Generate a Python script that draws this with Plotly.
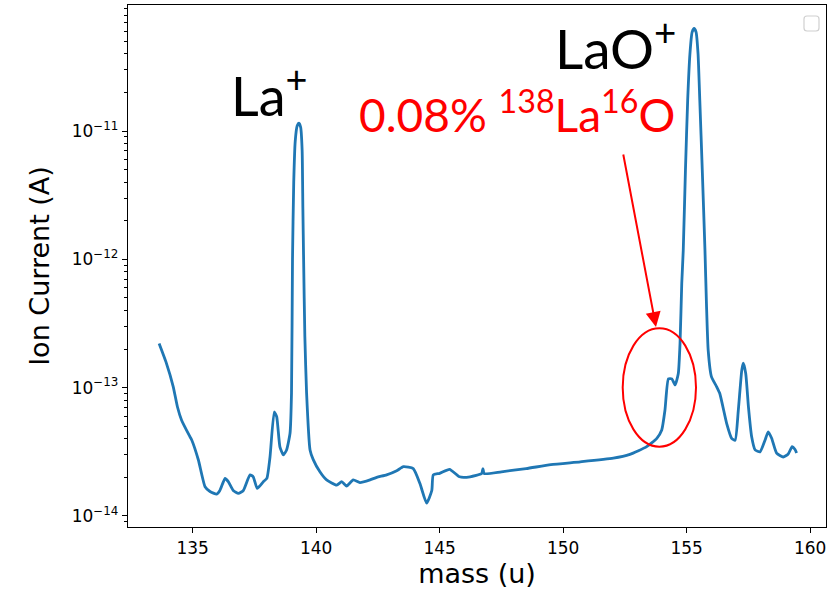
import plotly.graph_objects as go

# ---- data ----
mass = [133.64, 133.92, 134.21, 134.38, 134.55, 134.89, 134.96, 135.23, 135.50, 135.70,
        135.97, 136.10, 136.31, 136.44, 136.64, 136.85, 137.05, 137.32, 137.45, 137.61,
        137.86, 138.00, 138.13, 138.30, 138.40, 138.53, 138.67, 138.80, 138.94, 139.00,
        139.04, 139.09, 139.15, 139.23, 139.30, 139.37, 139.43, 139.46, 139.49, 139.54,
        139.61, 139.75, 139.88, 140.15, 140.42, 140.83, 141.03, 141.23, 141.50, 141.77,
        142.18, 142.45, 142.85, 143.26, 143.53, 143.93, 144.20, 144.47, 144.68, 144.74,
        145.00, 145.40, 145.80, 146.23, 146.70, 146.75, 146.80, 147.50, 148.50, 149.50,
        150.69, 152.03, 152.70, 153.38, 153.79, 153.99, 154.12, 154.26, 154.40, 154.53,
        154.66, 154.73, 154.80, 154.86, 154.95, 155.04, 155.13, 155.22, 155.30, 155.38,
        155.46, 155.53, 155.63, 155.74, 155.80, 155.87, 156.00, 156.21, 156.34, 156.62,
        156.82, 156.96, 157.09, 157.23, 157.29, 157.39, 157.50, 157.63, 157.77, 157.97,
        158.17, 158.30, 158.44, 158.64, 158.91, 159.11, 159.27, 159.38, 159.45]
current = [2.21e-13, 1.58e-13, 1.02e-13, 7.1e-14, 5.58e-14, 4.14e-14, 3.91e-14, 2.73e-14, 1.69e-14, 1.55e-14,
           1.48e-14, 1.58e-14, 1.96e-14, 1.85e-14, 1.58e-14, 1.50e-14, 1.58e-14, 2.09e-14, 2.02e-14, 1.64e-14,
           1.85e-14, 1.96e-14, 2.89e-14, 6.46e-14, 5.93e-14, 3.46e-14, 2.99e-14, 3.27e-14, 4.41e-14, 9.1e-14,
           1.0e-12, 3.98e-12, 8.3e-12, 1.10e-11, 1.15e-11, 1.07e-11, 7.1e-12, 2.5e-12, 1.0e-12, 2.5e-13,
           9.1e-14, 3.27e-14, 2.75e-14, 2.21e-14, 1.91e-14, 1.74e-14, 1.85e-14, 1.71e-14, 1.91e-14, 1.82e-14,
           1.91e-14, 2.0e-14, 2.09e-14, 2.25e-14, 2.42e-14, 2.34e-14, 1.79e-14, 1.26e-14, 1.58e-14, 2.09e-14,
           2.15e-14, 2.31e-14, 2.02e-14, 2.02e-14, 2.14e-14, 2.34e-14, 2.14e-14, 2.21e-14, 2.34e-14, 2.51e-14,
           2.64e-14, 2.82e-14, 3.02e-14, 3.47e-14, 4.03e-14, 4.68e-14, 6.68e-14, 1.17e-13, 1.17e-13, 1.05e-13,
           1.29e-13, 2.21e-13, 6.5e-13, 1.17e-12, 5.0e-12, 1.74e-11, 3.98e-11, 5.9e-11, 6.3e-11, 5.9e-11,
           3.98e-11, 1.74e-11, 5.0e-12, 1.17e-12, 4.5e-13, 1.96e-13, 1.22e-13, 1.02e-13, 9.0e-14, 5.25e-14,
           4.03e-14, 3.89e-14, 6.68e-14, 1.37e-13, 1.55e-13, 1.29e-13, 7.08e-14, 4.14e-14, 3.27e-14, 3.16e-14,
           3.89e-14, 4.53e-14, 4.03e-14, 3.09e-14, 2.88e-14, 3.04e-14, 3.47e-14, 3.31e-14, 3.09e-14]

x_ticks = [135, 140, 145, 150, 155, 160]
y_ticks = [1e-14, 1e-13, 1e-12, 1e-11]
y_ticktext = ["10<sup>\u221214</sup>", "10<sup>\u221213</sup>", "10<sup>\u221212</sup>", "10<sup>\u221211</sup>"]
y_minor = [9e-15] + [k * 10.0 ** e for e in (-14, -13, -12, -11) for k in range(2, 10)]

# ---- layout geometry (pixels) ----
W, H = 828, 594
L, R, T, B = 128, 2, 5, 67
PW, PH = W - L - R, H - T - B


def px(x):
    return (x - L) / PW


def py(y):
    return (H - B - y) / PH


fig = go.Figure()
fig.add_trace(go.Scatter(x=mass, y=current, mode="lines",
                         line=dict(color="#1f77b4", width=2.8, shape="spline", smoothing=0.5),
                         showlegend=False))

axis_common = dict(showline=True, linecolor="black", linewidth=1.3, mirror=True,
                   ticks="outside", ticklen=5, tickwidth=1.2, tickcolor="black",
                   showgrid=False, zeroline=False,
                   tickfont=dict(family="DejaVu Sans", size=17, color="black"))

fig.update_layout(
    width=W, height=H,
    margin=dict(l=L, r=R, t=T, b=B),
    paper_bgcolor="white", plot_bgcolor="white",
    xaxis=dict(range=[132.38, 160.64], tickvals=x_ticks,
               title=dict(text="mass (u)", font=dict(family="DejaVu Sans", size=27, color="black"),
                          standoff=4),
               **axis_common),
    yaxis=dict(type="log", range=[-14.086, -10.018], tickvals=y_ticks, ticktext=y_ticktext,
               minor=dict(tickvals=y_minor, ticks="outside", ticklen=3, tickwidth=1, tickcolor="black"),
               title=dict(text="Ion Current (A)", font=dict(family="DejaVu Sans", size=27, color="black"),
                          standoff=14),
               **axis_common),
)

# labels
fig.add_annotation(xref="paper", yref="paper", x=px(229), y=py(92), xanchor="left", yanchor="middle",
                   text="La<sup>+</sup>", showarrow=False,
                   font=dict(family="Lato", size=54, color="black"))
fig.add_annotation(xref="paper", yref="paper", x=px(553), y=py(45), xanchor="left", yanchor="middle",
                   text="LaO<sup>+</sup>", showarrow=False,
                   font=dict(family="Lato", size=55, color="black"))
fig.add_annotation(xref="paper", yref="paper", x=px(677), y=py(112), xanchor="right", yanchor="middle",
                   text="0.08% <sup>138</sup>La<sup>16</sup>O", showarrow=False,
                   font=dict(family="Lato", size=46, color="red"))

# arrow
fig.add_annotation(xref="paper", yref="paper", x=px(656), y=py(327), ax=623 - 656, ay=153 - 327,
                   axref="pixel", ayref="pixel", text="", showarrow=True,
                   arrowhead=2, arrowsize=1.5, arrowwidth=2, arrowcolor="red", standoff=0)

# ellipse
fig.add_shape(type="circle", xref="paper", yref="paper",
              x0=px(622.7), x1=px(696), y0=py(446.7), y1=py(328.3),
              line=dict(color="red", width=2))

# empty legend box
x0, x1, y0, y1, r = 804, 819, 16, 31, 3
path = (f"M {px(x0 + r)} {py(y0)} L {px(x1 - r)} {py(y0)} Q {px(x1)} {py(y0)} {px(x1)} {py(y0 + r)} "
        f"L {px(x1)} {py(y1 - r)} Q {px(x1)} {py(y1)} {px(x1 - r)} {py(y1)} "
        f"L {px(x0 + r)} {py(y1)} Q {px(x0)} {py(y1)} {px(x0)} {py(y1 - r)} "
        f"L {px(x0)} {py(y0 + r)} Q {px(x0)} {py(y0)} {px(x0 + r)} {py(y0)} Z")
fig.add_shape(type="path", xref="paper", yref="paper", path=path,
              line=dict(color="#d0d0d0", width=1.2), fillcolor="white")

fig.write_html("out.html")
